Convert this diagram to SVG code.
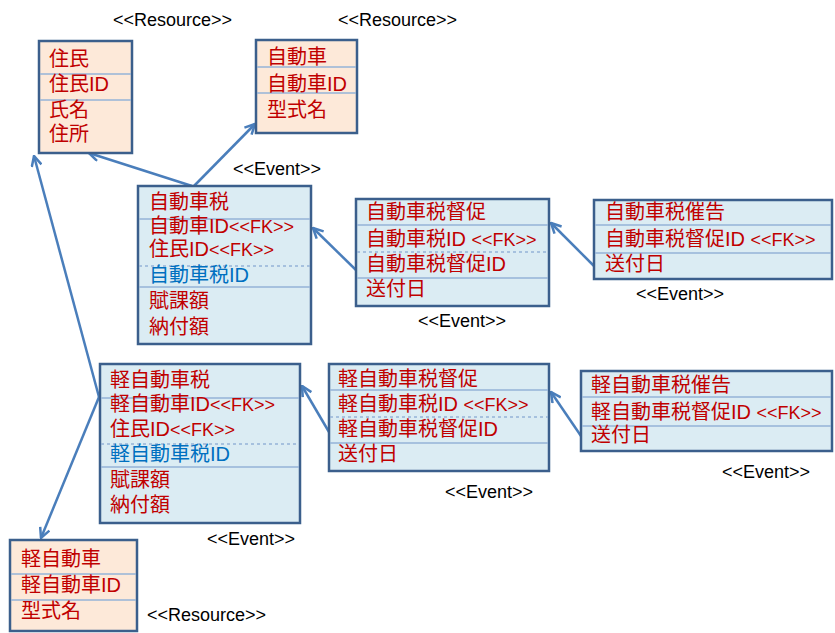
<svg xmlns="http://www.w3.org/2000/svg" width="835" height="633" viewBox="0 0 835 633">
<style>
.res{fill:#fde9d9;stroke:#3b5f8c;stroke-width:2.5}
.evt{fill:#dbecf3;stroke:#3b5f8c;stroke-width:2.5}
.div{stroke:#95b3d7;stroke-width:1.5}
.dash{stroke:#95b3d7;stroke-width:1.5;stroke-dasharray:3 3}
.t{font-family:"Liberation Sans","Noto Sans CJK JP",sans-serif;font-size:20px;fill:#c00000}
.b{fill:#0070c0}
.fk{font-size:18px}
.st{font-family:"Liberation Sans","Noto Sans CJK JP",sans-serif;font-size:18px;fill:#000}
.con{stroke:#4a7ebb;stroke-width:2.5;fill:none;marker-end:url(#arr)}
</style>
<defs>
<marker id="arr" markerUnits="userSpaceOnUse" viewBox="0 0 12 12" refX="11" refY="6" markerWidth="12" markerHeight="12" orient="auto">
<path d="M1,1 L11,6 L1,11" fill="none" stroke="#4a7ebb" stroke-width="2.5" stroke-linejoin="miter"/>
</marker>
</defs>

<g id="connectors">
<line class="con" x1="192" y1="186" x2="89" y2="153"/>
<line class="con" x1="194" y1="186" x2="255" y2="124"/>
<line class="con" x1="357" y1="271" x2="313" y2="228"/>
<line class="con" x1="594" y1="266" x2="551" y2="223"/>
<line class="con" x1="329" y1="432" x2="302" y2="386"/>
<line class="con" x1="581" y1="436" x2="551" y2="392"/>
<line class="con" x1="99" y1="397" x2="34" y2="156"/>
<line class="con" x1="99" y1="397" x2="41" y2="538"/>
</g>

<g id="jumin">
<text class="st" x="113" y="26">&lt;&lt;Resource&gt;&gt;</text>
<rect class="res" x="39" y="41" width="93" height="112"/>
<line class="div" x1="40" y1="74" x2="131" y2="74"/>
<line class="div" x1="40" y1="100" x2="131" y2="100"/>
<text class="t" x="49" y="66">住民</text>
<text class="t" x="49" y="91">住民ID</text>
<text class="t" x="49" y="117">氏名</text>
<text class="t" x="49" y="141">住所</text>
</g>

<g id="jidousha">
<text class="st" x="338" y="26">&lt;&lt;Resource&gt;&gt;</text>
<rect class="res" x="256" y="40" width="101" height="93"/>
<line class="div" x1="257" y1="67" x2="356" y2="67"/>
<line class="div" x1="257" y1="93" x2="356" y2="93"/>
<text class="t" x="267" y="64">自動車</text>
<text class="t" x="267" y="91">自動車ID</text>
<text class="t" x="267" y="117">型式名</text>
</g>

<g id="jidoushazei">
<text class="st" x="233" y="175">&lt;&lt;Event&gt;&gt;</text>
<rect class="evt" x="138" y="186" width="173" height="158"/>
<line class="div" x1="139" y1="219" x2="310" y2="219"/>
<line class="dash" x1="139" y1="266" x2="310" y2="266"/>
<line class="div" x1="139" y1="287" x2="310" y2="287"/>
<text class="t" x="149" y="209">自動車税</text>
<text class="t" x="149" y="233">自動車ID<tspan class="fk">&lt;&lt;FK&gt;&gt;</tspan></text>
<text class="t" x="149" y="256">住民ID<tspan class="fk">&lt;&lt;FK&gt;&gt;</tspan></text>
<text class="t b" x="149" y="282">自動車税ID</text>
<text class="t" x="149" y="308">賦課額</text>
<text class="t" x="149" y="334">納付額</text>
</g>

<g id="jidoushazei-tokusoku">
<rect class="evt" x="356" y="199" width="193" height="107"/>
<line class="div" x1="357" y1="225" x2="548" y2="225"/>
<line class="dash" x1="357" y1="252" x2="548" y2="252"/>
<line class="div" x1="357" y1="278" x2="548" y2="278"/>
<text class="t" x="366" y="219">自動車税督促</text>
<text class="t" x="366" y="246">自動車税ID <tspan class="fk">&lt;&lt;FK&gt;&gt;</tspan></text>
<text class="t" x="366" y="271">自動車税督促ID</text>
<text class="t" x="366" y="296">送付日</text>
<text class="st" x="418" y="327">&lt;&lt;Event&gt;&gt;</text>
</g>

<g id="jidoushazei-saikoku">
<rect class="evt" x="594" y="200" width="238" height="79"/>
<line class="div" x1="595" y1="225" x2="831" y2="225"/>
<line class="div" x1="595" y1="253" x2="831" y2="253"/>
<text class="t" x="605" y="219">自動車税催告</text>
<text class="t" x="605" y="246">自動車税督促ID <tspan class="fk">&lt;&lt;FK&gt;&gt;</tspan></text>
<text class="t" x="605" y="271">送付日</text>
<text class="st" x="636" y="300">&lt;&lt;Event&gt;&gt;</text>
</g>

<g id="keijidoushazei">
<rect class="evt" x="100" y="364" width="200" height="159"/>
<line class="div" x1="101" y1="398" x2="299" y2="398"/>
<line class="dash" x1="101" y1="444" x2="299" y2="444"/>
<line class="div" x1="101" y1="467" x2="299" y2="467"/>
<text class="t" x="110" y="387">軽自動車税</text>
<text class="t" x="110" y="411">軽自動車ID<tspan class="fk">&lt;&lt;FK&gt;&gt;</tspan></text>
<text class="t" x="110" y="436">住民ID<tspan class="fk">&lt;&lt;FK&gt;&gt;</tspan></text>
<text class="t b" x="110" y="461">軽自動車税ID</text>
<text class="t" x="110" y="487">賦課額</text>
<text class="t" x="110" y="512">納付額</text>
<text class="st" x="207" y="545">&lt;&lt;Event&gt;&gt;</text>
</g>

<g id="keijidoushazei-tokusoku">
<rect class="evt" x="329" y="364" width="220" height="107"/>
<line class="div" x1="330" y1="390" x2="548" y2="390"/>
<line class="dash" x1="330" y1="417" x2="548" y2="417"/>
<line class="div" x1="330" y1="443" x2="548" y2="443"/>
<text class="t" x="338" y="386">軽自動車税督促</text>
<text class="t" x="338" y="411">軽自動車税ID <tspan class="fk">&lt;&lt;FK&gt;&gt;</tspan></text>
<text class="t" x="338" y="436">軽自動車税督促ID</text>
<text class="t" x="338" y="461">送付日</text>
<text class="st" x="445" y="498">&lt;&lt;Event&gt;&gt;</text>
</g>

<g id="keijidoushazei-saikoku">
<rect class="evt" x="581" y="371" width="251" height="80"/>
<line class="div" x1="582" y1="397" x2="831" y2="397"/>
<line class="div" x1="582" y1="426" x2="831" y2="426"/>
<text class="t" x="591" y="392">軽自動車税催告</text>
<text class="t" x="591" y="419">軽自動車税督促ID <tspan class="fk">&lt;&lt;FK&gt;&gt;</tspan></text>
<text class="t" x="591" y="442">送付日</text>
<text class="st" x="722" y="478">&lt;&lt;Event&gt;&gt;</text>
</g>

<g id="keijidousha">
<rect class="res" x="10" y="540" width="127" height="91"/>
<line class="div" x1="11" y1="574" x2="136" y2="574"/>
<line class="div" x1="11" y1="600" x2="136" y2="600"/>
<text class="t" x="21" y="566">軽自動車</text>
<text class="t" x="21" y="592">軽自動車ID</text>
<text class="t" x="21" y="618">型式名</text>
<text class="st" x="147" y="621">&lt;&lt;Resource&gt;&gt;</text>
</g>
</svg>
